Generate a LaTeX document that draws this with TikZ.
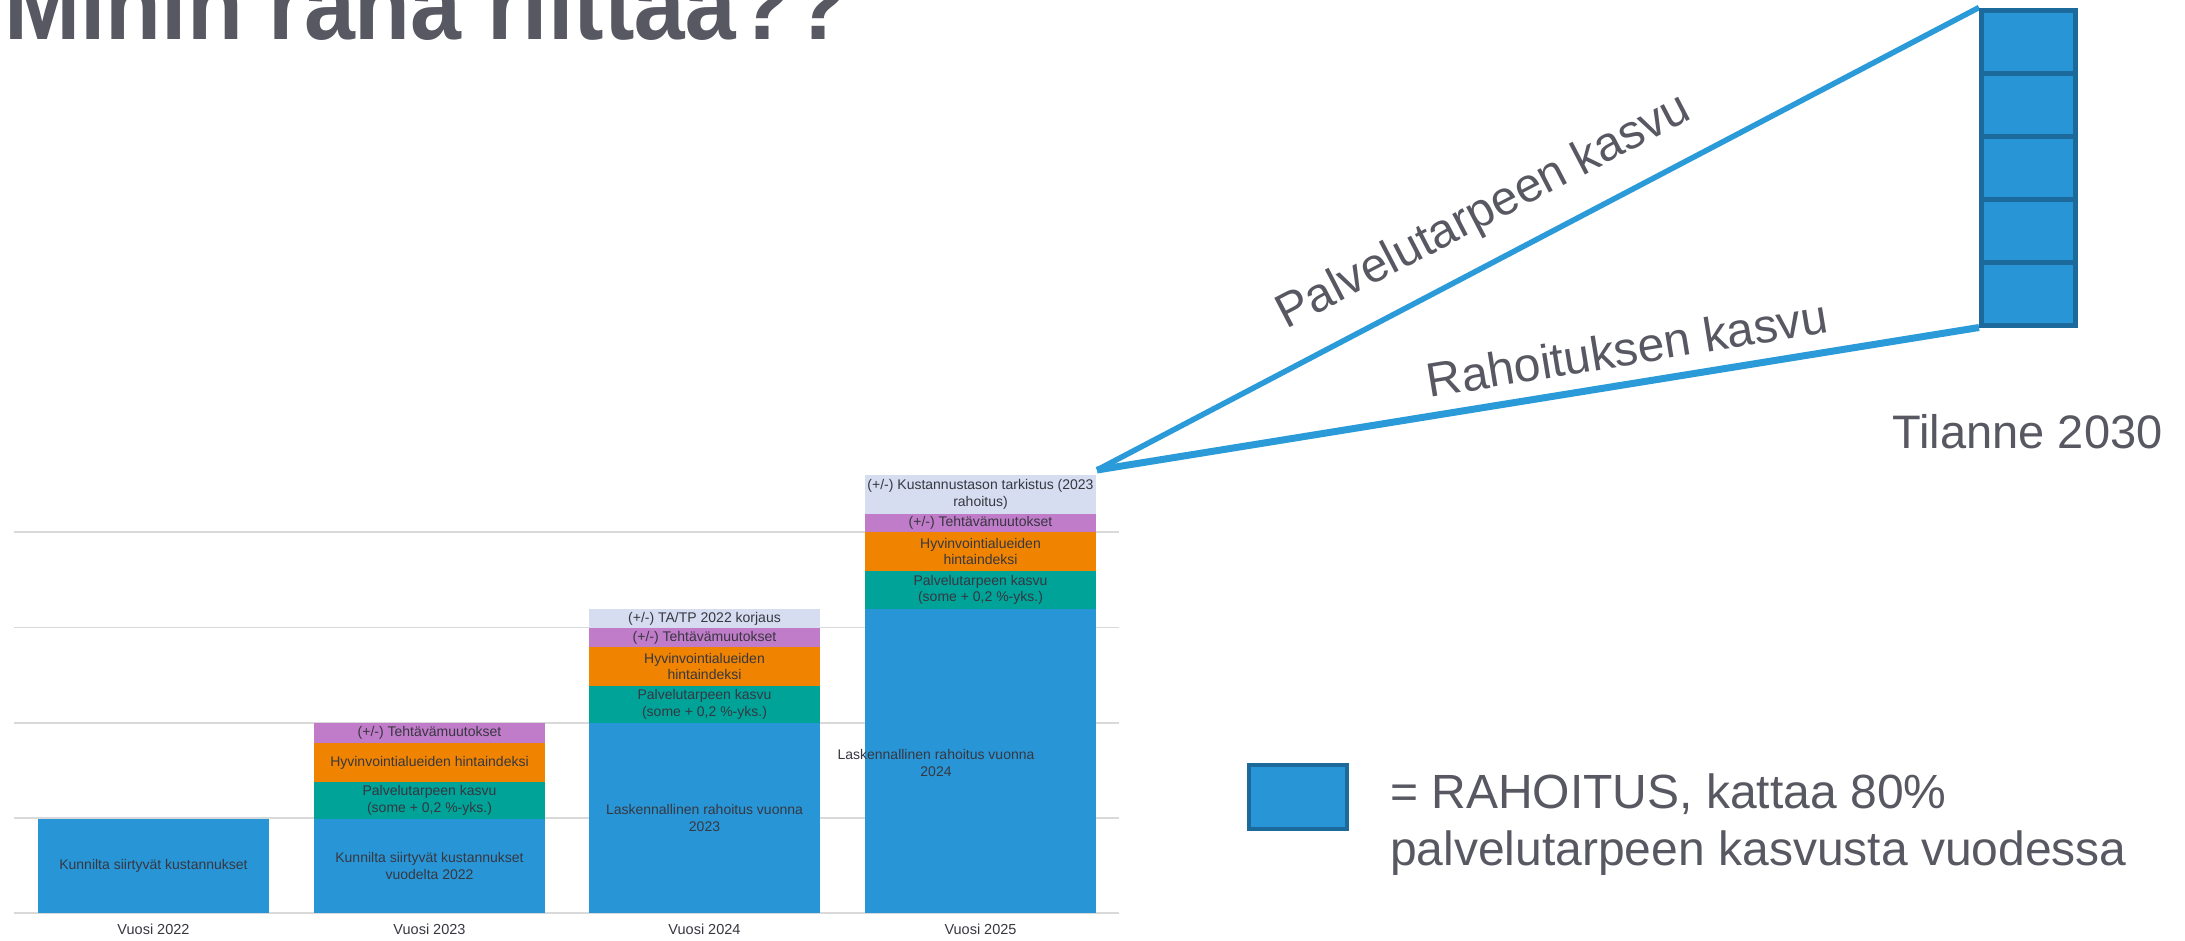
\documentclass[tikz,border=0pt]{standalone}
\usepackage{fontspec}
\setmainfont{Liberation Sans}
\definecolor{cblue}{RGB}{40,150,214}
\definecolor{cteal}{RGB}{0,163,152}
\definecolor{corange}{RGB}{240,132,0}
\definecolor{cpurple}{RGB}{192,124,200}
\definecolor{clav}{RGB}{214,221,240}
\definecolor{cgrid}{RGB}{217,217,217}
\definecolor{ctxt}{RGB}{55,55,65}
\definecolor{cgray}{RGB}{88,88,99}
\definecolor{cline}{RGB}{42,155,216}
\definecolor{cdark}{RGB}{28,106,155}
\newcommand{\barfont}{\fontsize{14}{16.5}\selectfont}
\newcommand{\bigfont}{\fontsize{48}{57}\selectfont}
\pgfdeclarelayer{bg}
\pgfsetlayers{bg,main}
\begin{document}
\begin{tikzpicture}[x=1pt,y=-1pt,
  seg/.style={rectangle, anchor=north west, inner sep=0pt, outer sep=0pt, minimum width=231pt, align=center, font=\barfont, text=ctxt},
  yr/.style={font=\fontsize{14.5}{17}\selectfont, text=ctxt, inner sep=0pt},
  gridl/.style={draw=cgrid, line width=1.5pt},
  cell/.style={rectangle, fill=cblue, draw=cdark, line width=5pt, minimum width=94pt, minimum height=63pt, inner sep=0pt},
  growline/.style={draw=cline, line join=miter},
  lbl/.style={font=\bigfont, text=cgray, inner sep=0pt, anchor=base}
]
\useasboundingbox (0,0) rectangle (2185,940);
\clip (0,0) rectangle (2185,940);
\begin{pgfonlayer}{bg}
\fill[white] (0,0) rectangle (2185,940);
\end{pgfonlayer}

% title (cut at the top edge)
\node[anchor=base west, inner sep=0pt, font=\fontsize{100}{110}\selectfont\bfseries, text=cgray, xscale=0.915] (title) at (4,39) {Mihin raha riittää??};

% gridlines
\foreach \gy in {532,627.5,723,818,913} \draw[gridl] (14,\gy) -- (1119,\gy);

% Vuosi 2022
\node[seg, fill=cblue, minimum height=94pt] (a1) at (38,819) {Kunnilta siirtyvät kustannukset};

% Vuosi 2023
\node[seg, fill=cpurple, minimum height=20pt] (b4) at (314,723) {(+/-) Tehtävämuutokset};
\node[seg, fill=corange, minimum height=39pt] (b3) at (314,743) {Hyvinvointialueiden hintaindeksi};
\node[seg, fill=cteal, minimum height=37pt] (b2) at (314,782) {Palvelutarpeen kasvu\\(some + 0,2 \%-yks.)};
\node[seg, fill=cblue, minimum height=94pt] (b1) at (314,819) {Kunnilta siirtyvät kustannukset\\vuodelta 2022};

% Vuosi 2024
\node[seg, fill=clav, minimum height=19pt] (c5) at (589,609) {(+/-) TA/TP 2022 korjaus};
\node[seg, fill=cpurple, minimum height=19pt] (c4) at (589,628) {(+/-) Tehtävämuutokset};
\node[seg, fill=corange, minimum height=39pt] (c3) at (589,647) {Hyvinvointialueiden\\hintaindeksi};
\node[seg, fill=cteal, minimum height=37pt] (c2) at (589,686) {Palvelutarpeen kasvu\\(some + 0,2 \%-yks.)};
\node[seg, fill=cblue, minimum height=190pt] (c1) at (589,723) {Laskennallinen rahoitus vuonna\\2023};

% Vuosi 2025
\node[seg, fill=clav, minimum height=39pt] (d5) at (865,475) {(+/-) Kustannustason tarkistus (2023\\rahoitus)};
\node[seg, fill=cpurple, minimum height=18pt] (d4) at (865,514) {(+/-) Tehtävämuutokset};
\node[seg, fill=corange, minimum height=39pt] (d3) at (865,532) {Hyvinvointialueiden\\hintaindeksi};
\node[seg, fill=cteal, minimum height=38pt] (d2) at (865,571) {Palvelutarpeen kasvu\\(some + 0,2 \%-yks.)};
\node[seg, fill=cblue, minimum height=304pt] (d1) at (865,609) {};
\node[align=center, font=\barfont, text=ctxt, inner sep=0pt] (d1l) at (936,763) {Laskennallinen rahoitus vuonna\\2024};

% year labels
\node[yr] (v22) at (153.5,929) {Vuosi 2022};
\node[yr] (v23) at (429.5,929) {Vuosi 2023};
\node[yr] (v24) at (704.5,929) {Vuosi 2024};
\node[yr] (v25) at (980.5,929) {Vuosi 2025};

% tower 2030
\node[cell] (t1) at (2028.5,41.5) {};
\node[cell] (t2) at (2028.5,104.5) {};
\node[cell] (t3) at (2028.5,167.5) {};
\node[cell] (t4) at (2028.5,230.5) {};
\node[cell] (t5) at (2028.5,293.5) {};

% growth lines
\coordinate (apex) at (1097,470);
\begin{pgfonlayer}{bg}
\draw[growline, line width=5.5pt] (apex) -- (t1.north west);
\draw[growline, line width=7pt] (apex) -- (t5.south west);
\end{pgfonlayer}

\node[lbl, rotate=27.47] (pk) at (1490,224) {Palvelutarpeen kasvu};
\node[lbl, rotate=9.31] (rk) at (1630,365) {Rahoituksen kasvu};
\node[lbl, font=\fontsize{47}{56}\selectfont] (tilanne) at (2027.5,448) {Tilanne 2030};

% legend
\node[rectangle, fill=cblue, draw=cdark, line width=4pt, minimum width=98pt, minimum height=64pt, inner sep=0pt] (leg) at (1298,797) {};
\node[lbl, anchor=base west] (leg1) at (1390,808) {= RAHOITUS, kattaa 80\%};
\node[lbl, anchor=base west] (leg2) at (1390,865) {palvelutarpeen kasvusta vuodessa};
\end{tikzpicture}
\end{document}
